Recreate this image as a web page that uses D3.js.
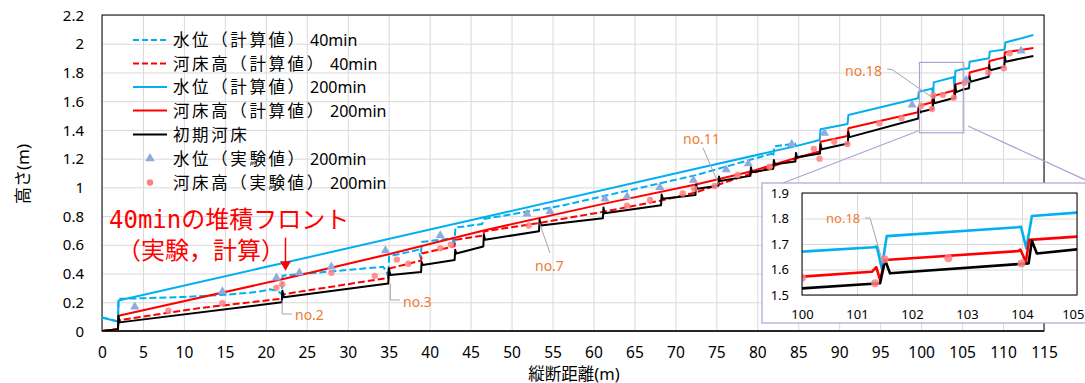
<!DOCTYPE html>
<html><head><meta charset="utf-8">
<script src="https://cdn.jsdelivr.net/npm/d3@7"></script>
<style>
body{margin:0;background:#fff}
svg{display:block}
text{font-family:"Noto Sans","Noto Sans CJK JP",sans-serif}
</style>
</head><body>
<svg id="c" width="1085" height="383"></svg>
<script>
// ---------------- data ----------------
const xTickValues = [0,5,10,15,20,25,30,35,40,45,50,55,60,65,70,75,80,85,90,95,100,105,110,115];
const yTickValues = [0,0.2,0.4,0.6,0.8,1,1.2,1.4,1.6,1.8,2,2.2];
const yTickLabels = ["0","0.2","0.4","0.6","0.8","1","1.2","1.4","1.6","1.8","2","2.2"];
const insetXTicks = [100,101,102,103,104,105];
const insetYTicks = [1.5,1.6,1.7,1.8,1.9];

const seriesNames = ["水位（計算値）","河床高（計算値）","水位（計算値）","河床高（計算値）","初期河床","水位（実験値）","河床高（実験値）"];
const seriesSuffix = ["40min","40min","200min","200min","","200min","200min"];

// water level, computed, 40 min
const waterCalc40 = [[0,0.094],[0.6,0.085],[1.95,0.066],[2.02,0.224],[5,0.228],[10,0.237],[15,0.252],[19,0.272],[20.5,0.29],[21.5,0.278],[21.95,0.255],[22.05,0.385],[28,0.415],[34.3,0.447],[34.7,0.42],[34.95,0.375],[35.05,0.52],[38.6,0.565],[38.9,0.51],[39.05,0.62],[42.8,0.645],[43.0,0.59],[43.15,0.72],[46.4,0.745],[46.65,0.78],[55.9,0.87],[72.5,1.085],[81.8,1.235],[81.95,1.215],[82.05,1.285],[84.6,1.305],[84.72,1.287]];
// bed, computed, 40 min
const bedCalc40 = [[0,0],[1.95,0.012],[2.0,0.066],[2.1,0.075],[12,0.16],[21.95,0.225],[22.05,0.255],[34.95,0.37],[35.05,0.435],[38.95,0.49],[39.05,0.54],[43.02,0.59],[43.15,0.635],[46.55,0.664],[46.65,0.694],[53.4,0.752],[61.2,0.83],[68.4,0.91],[72.5,0.965],[79.2,1.095],[84.7,1.2],[87.6,1.25]];
// water level, computed, 200 min
const waterCalc200 = [[0,0.094],[0.6,0.085],[1.95,0.066],[2.02,0.212],[22,0.472],[46.6,0.792],[72.5,1.129],[84.7,1.287],[87.62,1.33],[87.72,1.405],[91.02,1.441],[91.12,1.504],[99.62,1.62],[99.72,1.665],[100,1.67],[101.3,1.687],[101.36,1.69],[101.45,1.605],[101.54,1.731],[103.93,1.766],[103.98,1.768],[104.08,1.683],[104.18,1.81],[105,1.823],[105.85,1.829],[105.92,1.875],[108.3,1.899],[108.37,1.945],[110.2,1.96],[110.27,2.008],[113.7,2.061]];
// bed, computed, 200 min
const bedCalc200 = [[0,0],[1.95,0.012],[2.02,0.106],[22,0.36],[35,0.535],[46.6,0.70],[61.2,0.885],[72.5,1.02],[79.2,1.11],[84.7,1.205],[87.62,1.25],[87.72,1.318],[91.02,1.358],[91.12,1.411],[99.62,1.523],[99.72,1.567],[100,1.572],[101.27,1.591],[101.35,1.609],[101.42,1.559],[101.51,1.637],[103.93,1.672],[103.97,1.678],[104.07,1.631],[104.13,1.716],[105,1.729],[105.85,1.742],[105.92,1.80],[108.27,1.835],[108.34,1.88],[110.17,1.905],[110.24,1.94],[113.7,1.97]];
// initial bed
const bedInitial = [[0,0],[1.95,0.012],[2.0,0.105],[2.15,0.06],[21.95,0.2],[22.02,0.28],[22.2,0.235],[34.95,0.33],[35.02,0.435],[35.2,0.39],[38.95,0.41],[39.02,0.48],[39.15,0.46],[43.05,0.495],[43.12,0.565],[43.25,0.54],[46.55,0.588],[46.62,0.67],[46.75,0.635],[53.35,0.695],[53.42,0.776],[53.55,0.735],[61.15,0.785],[61.22,0.86],[61.35,0.82],[68.25,0.875],[68.32,0.95],[68.45,0.92],[72.45,0.947],[72.52,1.02],[72.65,0.99],[75.25,1.012],[75.32,1.075],[75.45,1.045],[79.15,1.08],[79.22,1.14],[79.35,1.105],[81.95,1.13],[82.02,1.19],[82.15,1.16],[84.65,1.18],[84.72,1.24],[84.85,1.21],[87.65,1.235],[87.72,1.30],[87.85,1.265],[91.05,1.305],[91.12,1.385],[91.25,1.35],[99.65,1.48],[99.72,1.56],[99.85,1.52],[100,1.526],[101.42,1.546],[101.51,1.637],[101.6,1.585],[104.12,1.624],[104.18,1.713],[104.27,1.663],[105,1.679],[105.85,1.69],[105.92,1.77],[106.02,1.735],[108.25,1.77],[108.32,1.85],[108.42,1.815],[110.15,1.84],[110.22,1.91],[110.32,1.875],[113.7,1.915]];
// experiment, water level 200 min
const waterExp200 = [[4.0,0.168],[14.7,0.275],[21.3,0.37],[24.1,0.405],[28.0,0.447],[34.6,0.56],[41.3,0.665],[51.9,0.815],[54.7,0.833],[61.4,0.92],[64.1,0.937],[68.1,1.0],[72.2,1.05],[76.2,1.123],[78.9,1.165],[84.2,1.30],[88.2,1.377],[98.9,1.574],[105.5,1.748],[112.2,1.95]];
// experiment, bed 200 min
const bedExp200 = [[8.1,0.141],[14.7,0.193],[21.3,0.301],[22.0,0.325],[28.0,0.405],[33.3,0.384],[36.0,0.497],[37.4,0.468],[41.3,0.576],[42.6,0.600],[52.1,0.735],[64.1,0.873],[66.9,0.912],[70.9,0.957],[72.3,0.99],[74.8,1.01],[77.6,1.086],[81.5,1.144],[86.9,1.268],[87.6,1.20],[89.4,1.318],[91.0,1.302],[94.9,1.446],[97.6,1.481],[100.0,1.568],[101.33,1.546],[101.5,1.64],[102.66,1.644],[103.99,1.624],[105.3,1.729],[108.2,1.799],[110.1,1.829],[110.8,1.934]];

// ---------------- drawing ----------------
const BLUE="#00B0F0", RED="#FF0000", BLACK="#000000", TRI="#8FAADC", DOT="#FF8080", ORANGE="#ED7D31", GRID="#D9D9D9", PURPLE="#B49FD4", LEADER="#A6A6A6";
const svg=d3.select("#c");
const P={l:102,r:1044,t:15,b:331};
const x=d3.scaleLinear().domain([0,115]).range([P.l,P.r]);
const y=d3.scaleLinear().domain([0,2.2]).range([P.b,P.t]);

svg.append("defs").append("clipPath").attr("id","clipMain").append("rect")
  .attr("x",P.l).attr("y",P.t-2).attr("width",P.r-P.l).attr("height",P.b-P.t+2);

// gridlines
svg.append("g").attr("transform",`translate(0,${P.b})`)
  .call(d3.axisBottom(x).tickValues(xTickValues).tickSize(-(P.b-P.t)).tickFormat(""))
  .call(g=>{g.select(".domain").remove();g.selectAll("line").attr("stroke",GRID).attr("stroke-width",1);});
svg.append("g").attr("transform",`translate(${P.l},0)`)
  .call(d3.axisLeft(y).tickValues(yTickValues).tickSize(-(P.r-P.l)).tickFormat(""))
  .call(g=>{g.select(".domain").remove();g.selectAll("line").attr("stroke",GRID).attr("stroke-width",1);});

// tick labels
svg.append("g").attr("transform",`translate(0,${P.b})`)
  .call(d3.axisBottom(x).tickValues(xTickValues).tickSize(0).tickPadding(0).tickFormat(d3.format("d")))
  .call(g=>{g.select(".domain").remove();g.selectAll("text").attr("y",27).attr("dy",0).attr("font-size",15.5).attr("fill","#000").style("font-family","Noto Sans");});
svg.append("g").attr("transform",`translate(${P.l},0)`)
  .call(d3.axisLeft(y).tickValues(yTickValues).tickSize(0).tickPadding(18).tickFormat((d,i)=>yTickLabels[i]))
  .call(g=>{g.select(".domain").remove();g.selectAll("text").attr("dy","0.34em").attr("font-size",15).attr("fill","#000").style("font-family","Noto Sans");});

// plot border
svg.append("rect").attr("x",P.l).attr("y",P.t).attr("width",P.r-P.l).attr("height",P.b-P.t)
  .attr("fill","none").attr("stroke","#000").attr("stroke-width",1);
svg.append("line").attr("x1",P.l).attr("x2",P.r).attr("y1",P.b).attr("y2",P.b).attr("stroke","#262626").attr("stroke-width",2);

// axis titles
svg.append("text").attr("x",574).attr("y",379.5).attr("text-anchor","middle").attr("font-size",16.5).text("縦断距離(m)");
svg.append("text").attr("transform","translate(29,174) rotate(-90)").attr("text-anchor","middle").attr("font-size",17).text("高さ(m)");

function drawSeries(g, sx, sy, lw, mk){
  const line=d3.line().x(d=>sx(d[0])).y(d=>sy(d[1]));
  g.append("path").datum(waterCalc40).attr("d",line).attr("fill","none").attr("stroke",BLUE).attr("stroke-width",lw).attr("stroke-dasharray","7,3");
  g.append("path").datum(bedCalc40).attr("d",line).attr("fill","none").attr("stroke",RED).attr("stroke-width",lw).attr("stroke-dasharray","7,3");
  g.append("path").datum(waterCalc200).attr("d",line).attr("fill","none").attr("stroke",BLUE).attr("stroke-width",lw).attr("stroke-linejoin","round");
  g.append("path").datum(bedCalc200).attr("d",line).attr("fill","none").attr("stroke",RED).attr("stroke-width",lw).attr("stroke-linejoin","round");
  g.append("path").datum(bedInitial).attr("d",line).attr("fill","none").attr("stroke",BLACK).attr("stroke-width",lw).attr("stroke-linejoin","round");
  const tri=d3.symbol().type(d3.symbolTriangle).size(mk.tri);
  g.append("g").selectAll("path").data(waterExp200).join("path")
    .attr("d",tri).attr("transform",d=>`translate(${sx(d[0])},${sy(d[1])})`).attr("fill",TRI);
  g.append("g").selectAll("circle").data(bedExp200).join("circle")
    .attr("cx",d=>sx(d[0])).attr("cy",d=>sy(d[1])).attr("r",mk.r).attr("fill",DOT).attr("fill-opacity",0.85);
}
drawSeries(svg.append("g").attr("clip-path","url(#clipMain)"), x, y, 2, {tri:36,r:3.2});

// legend
const legY=[40,63.5,87,110.5,134.5,158.5,182.5];
const leg=svg.append("g");
seriesNames.forEach((nm,i)=>{
  const yy=legY[i];
  if(i<5){
    const col=[BLUE,RED,BLUE,RED,BLACK][i];
    leg.append("line").attr("x1",133).attr("x2",167).attr("y1",yy).attr("y2",yy).attr("stroke",col).attr("stroke-width",2)
      .attr("stroke-dasharray",i<2?"6,3":null);
  } else if(i===5){
    leg.append("path").attr("d",d3.symbol().type(d3.symbolTriangle).size(40)()).attr("transform",`translate(150,${yy})`).attr("fill",TRI);
  } else {
    leg.append("circle").attr("cx",150).attr("cy",yy).attr("r",3.2).attr("fill",DOT);
  }
  leg.append("text").attr("x",173).attr("y",yy+6).attr("font-size",16.5).attr("letter-spacing",2.6).text(nm);
  if(seriesSuffix[i]) leg.append("text").attr("x",nm.length===7?310:330).attr("y",yy+6).attr("font-size",16).text(seriesSuffix[i]);
});

// annotation: deposition front
const ann=svg.append("g").attr("fill",RED);
ann.append("text").attr("x",109).attr("y",228).attr("font-size",24).style("font-family","'DejaVu Sans Mono','Noto Sans CJK JP'").text("40minの堆積フロント");
ann.append("text").attr("x",117).attr("y",259).attr("font-size",24).style("font-family","'Noto Sans CJK JP'").text("（実験，計算）");
const ax=x(22.4), tipY=y(0.42);
ann.append("line").attr("x1",ax).attr("x2",ax).attr("y1",tipY-33).attr("y2",tipY-8).attr("stroke",RED).attr("stroke-width",1.5);
ann.append("path").attr("d",`M${ax-5.5},${tipY-9.5}L${ax+5.5},${tipY-9.5}L${ax},${tipY}Z`).attr("fill",RED);

// structure labels
function label(t,tx,ty,pts,fs){
  svg.append("polyline").attr("points",pts.map(p=>p.join(",")).join(" ")).attr("fill","none").attr("stroke",LEADER).attr("stroke-width",1);
  svg.append("text").attr("x",tx).attr("y",ty).attr("font-size",fs||14).attr("fill",ORANGE).text(t);
}
label("no.2",295,320,[[x(22.0),y(0.215)],[x(22.0),314],[292,314]]);
label("no.3",403,306.5,[[x(35.2),y(0.33)],[x(35.2),300],[400,300]]);
label("no.7",535,271,[[x(53.42),y(0.75)],[550,253]]);
label("no.11",683,144,[[703,148],[x(75.3),y(1.02)]]);
label("no.18",845,76,[[887,69],[892,69.5],[x(101.5),y(1.62)]]);

// zoom rectangle and connectors
svg.append("rect").attr("x",x(99.8)).attr("y",y(1.87)).attr("width",x(105.2)-x(99.8)).attr("height",y(1.38)-y(1.87))
  .attr("fill","none").attr("stroke",PURPLE).attr("stroke-width",1.2);
svg.append("line").attr("x1",918).attr("y1",131).attr("x2",783).attr("y2",183).attr("stroke",PURPLE).attr("stroke-width",1.2);
svg.append("line").attr("x1",968).attr("y1",126).attr("x2",1092).attr("y2",183).attr("stroke",PURPLE).attr("stroke-width",1.2);

// inset
const I={l:802,r:1077,t:193,b:295};
const ix=d3.scaleLinear().domain([100,105]).range([I.l,I.r]);
const iy=d3.scaleLinear().domain([1.5,1.9]).range([I.b,I.t]);
const ins=svg.append("g");
ins.append("rect").attr("x",762).attr("y",183).attr("width",340).attr("height",140).attr("fill","#fff").attr("stroke",PURPLE).attr("stroke-width",1.2);
svg.select("defs").append("clipPath").attr("id","clipInset").append("rect").attr("x",I.l).attr("y",I.t).attr("width",I.r-I.l).attr("height",I.b-I.t);
ins.append("g").attr("transform",`translate(0,${I.b})`)
  .call(d3.axisBottom(ix).tickValues(insetXTicks).tickSize(-(I.b-I.t)).tickFormat(""))
  .call(g=>{g.select(".domain").remove();g.selectAll("line").attr("stroke",GRID);});
ins.append("g").attr("transform",`translate(${I.l},0)`)
  .call(d3.axisLeft(iy).tickValues(insetYTicks).tickSize(-(I.r-I.l)).tickFormat(""))
  .call(g=>{g.select(".domain").remove();g.selectAll("line").attr("stroke",GRID);});
drawSeries(ins.append("g").attr("clip-path","url(#clipInset)"), ix, iy, 2.6, {tri:50,r:4});
ins.append("rect").attr("x",I.l).attr("y",I.t).attr("width",I.r-I.l).attr("height",I.b-I.t).attr("fill","none").attr("stroke","#000").attr("stroke-width",1);
ins.append("g").attr("transform",`translate(0,${I.b})`)
  .call(d3.axisBottom(ix).tickValues(insetXTicks).tickSize(0).tickFormat(d3.format("d")))
  .call(g=>{g.select(".domain").remove();
    g.selectAll("text").attr("y",24).attr("dy",0).attr("font-size",13).attr("fill","#000").style("font-family","Noto Sans");
    g.selectAll(".tick").filter(d=>d===105).select("text").attr("text-anchor","end").attr("x",1084-I.r);});
ins.append("g").attr("transform",`translate(${I.l},0)`)
  .call(d3.axisLeft(iy).tickValues(insetYTicks).tickSize(0).tickPadding(13).tickFormat(d3.format(".1f")))
  .call(g=>{g.select(".domain").remove();g.selectAll("text").attr("dy","0.34em").attr("font-size",13).attr("fill","#000").style("font-family","Noto Sans");});
svg.append("polyline").attr("points",`865,218 870,218 ${ix(101.48)},${iy(1.62)}`).attr("fill","none").attr("stroke",LEADER).attr("stroke-width",1);
svg.append("text").attr("x",826).attr("y",222.5).attr("font-size",13).attr("fill",ORANGE).text("no.18");
</script>
</body></html>
